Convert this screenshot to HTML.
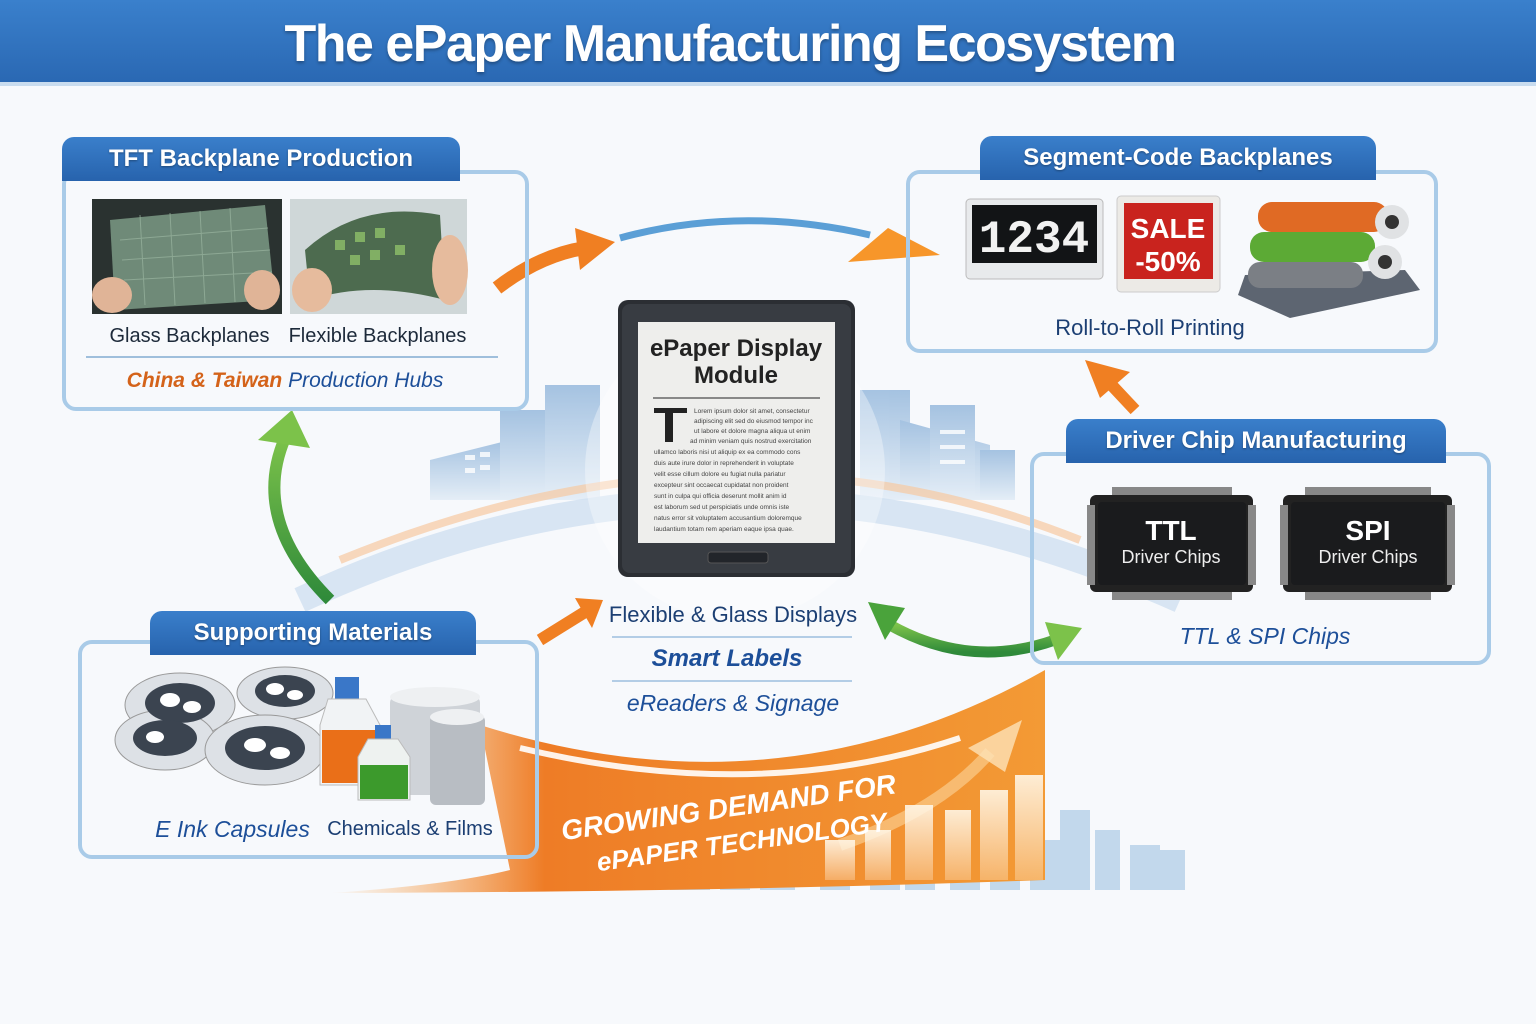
<!DOCTYPE html>
<html><head><meta charset="utf-8">
<style>
*{margin:0;padding:0;box-sizing:border-box}
body{width:1536px;height:1024px;overflow:hidden;background:#f7f9fc;font-family:"Liberation Sans",sans-serif;position:relative}
.a{position:absolute}
.hdr{left:0;top:0;width:1536px;height:86px;background:linear-gradient(#3a80cc,#2a68b3);border-bottom:4px solid #c9dcef}
.ttl{left:0;top:14px;width:1460px;text-align:center;color:#fff;font-weight:bold;font-size:52px;letter-spacing:-1.5px;text-shadow:0 2px 3px rgba(0,0,0,.3)}
.box{border:4px solid #a9cbe8;border-radius:14px}
.tab{background:linear-gradient(#3a7fcb,#2763ad);color:#fff;font-weight:bold;font-size:24px;text-align:center;border-radius:12px 12px 0 0;line-height:44px;text-shadow:0 1px 2px rgba(0,0,0,.35)}
.cap{font-size:20px;color:#1d2a3a;text-align:center}
.it{font-style:italic}
.bl{color:#1d4f99}
</style></head><body>
<svg class="a" style="left:0;top:0" width="1536" height="1024">
<defs>
<linearGradient id="ob" x1="0" y1="0" x2="1" y2="0"><stop offset="0" stop-color="#f9a64b" stop-opacity="0"/><stop offset=".3" stop-color="#ee7c26"/><stop offset="1" stop-color="#f39a35"/></linearGradient>
<linearGradient id="gr" x1="0" y1="1" x2="0" y2="0"><stop offset="0" stop-color="#2f8a3a"/><stop offset="1" stop-color="#7cc24a"/></linearGradient>
<linearGradient id="city" x1="0" y1="0" x2="0" y2="1"><stop offset="0" stop-color="#6f9fd0"/><stop offset="1" stop-color="#d9e7f4"/></linearGradient>
<linearGradient id="wb" x1="0" y1="0" x2="0" y2="1"><stop offset="0" stop-color="#fff6e6" stop-opacity=".9"/><stop offset="1" stop-color="#fff6e6" stop-opacity=".3"/></linearGradient>
</defs>
<g fill="url(#city)" opacity=".6">
<polygon points="430,460 510,440 510,500 430,500"/><rect x="500" y="410" width="60" height="90"/><rect x="545" y="385" width="55" height="115"/>
<rect x="860" y="390" width="50" height="110"/><polygon points="900,420 990,445 990,500 900,500"/><rect x="930" y="405" width="45" height="95"/><rect x="980" y="450" width="35" height="50"/>
</g>
<g fill="#fff" opacity=".8"><rect x="465" y="455" width="10" height="5"/><rect x="480" y="452" width="10" height="5"/><rect x="465" y="468" width="10" height="5"/><rect x="480" y="465" width="10" height="5"/><rect x="940" y="430" width="25" height="4"/><rect x="940" y="445" width="25" height="4"/><rect x="940" y="460" width="25" height="4"/></g>
<path d="M300 600 Q730 400 1180 600" fill="none" stroke="#cfe0f0" stroke-width="26" opacity=".8"/>
<path d="M340 560 Q730 400 1080 540" fill="none" stroke="#f6c9a1" stroke-width="8" opacity=".7"/>
<g fill="#8fb8de" opacity=".5">
<rect x="670" y="872" width="40" height="18"/><rect x="720" y="868" width="30" height="22"/><rect x="760" y="860" width="35" height="30"/><rect x="820" y="855" width="30" height="35"/><rect x="870" y="850" width="30" height="40"/><rect x="905" y="840" width="30" height="50"/><rect x="950" y="845" width="30" height="45"/><rect x="990" y="850" width="30" height="40"/><rect x="1030" y="840" width="30" height="50"/><rect x="1060" y="810" width="30" height="80"/><rect x="1095" y="830" width="25" height="60"/><rect x="1130" y="845" width="30" height="45"/><rect x="1160" y="850" width="25" height="40"/>
</g>
<path d="M480 725 Q780 820 1045 670 L1045 880 Q720 892 330 893 Q450 885 510 870 Z" fill="url(#ob)"/>
<path d="M520 748 Q760 805 960 738" fill="none" stroke="#fff" stroke-width="6" opacity=".9"/>
<path d="M840 845 Q940 810 990 752" fill="none" stroke="#fbd59b" stroke-width="12" opacity=".6"/>
<polygon points="968,748 1022,720 1005,772" fill="#fde2b8" opacity=".8"/>
<g fill="url(#wb)"><rect x="825" y="840" width="30" height="40"/><rect x="865" y="830" width="26" height="50"/><rect x="905" y="805" width="28" height="75"/><rect x="945" y="810" width="26" height="70"/><rect x="980" y="790" width="28" height="90"/><rect x="1015" y="775" width="28" height="105"/></g>
<text x="560" y="818" transform="rotate(-8 720 810)" font-family="Liberation Sans" font-weight="bold" font-style="italic" font-size="28" fill="#fff">GROWING DEMAND FOR</text>
<text x="595" y="854" transform="rotate(-8 720 840)" font-family="Liberation Sans" font-weight="bold" font-style="italic" font-size="26" fill="#fff">ePAPER TECHNOLOGY</text>
<path d="M497 288 Q540 255 585 248" stroke="#f07f22" stroke-width="14" fill="none"/>
<polygon points="575,228 615,242 580,270" fill="#f07f22"/>
<path d="M620 238 Q740 205 870 235" stroke="#5b9fd6" stroke-width="7" fill="none"/>
<polygon points="848,262 888,228 940,255" fill="#f7962a"/>
<path d="M330 600 Q250 520 285 438" stroke="url(#gr)" stroke-width="12" fill="none"/>
<polygon points="258,440 292,410 310,448" fill="#7cc24a"/>
<path d="M1135 410 L1105 378" stroke="#f07f22" stroke-width="12"/>
<polygon points="1085,360 1130,372 1100,398" fill="#f07f22"/>
<path d="M540 640 L585 612" stroke="#f07f22" stroke-width="12"/>
<polygon points="603,600 575,598 592,628" fill="#f07f22"/>
<path d="M890 625 Q970 670 1055 640" stroke="url(#gr)" stroke-width="11" fill="none"/>
<polygon points="868,602 905,608 885,640" fill="#4aa33b"/>
<polygon points="1082,628 1045,622 1058,660" fill="#7cc24a"/>
<circle cx="735" cy="470" r="150" fill="#fff" opacity=".35"/>
<rect x="618" y="300" width="237" height="277" rx="10" fill="#2b2e33"/>
<rect x="622" y="304" width="229" height="269" rx="8" fill="#383c42"/>
<rect x="638" y="322" width="197" height="221" fill="#eeeeec"/>
<text x="736" y="356" text-anchor="middle" font-family="Liberation Sans" font-weight="bold" font-size="24" fill="#222">ePaper Display</text>
<text x="736" y="383" text-anchor="middle" font-family="Liberation Sans" font-weight="bold" font-size="24" fill="#222">Module</text>
<line x1="653" y1="398" x2="820" y2="398" stroke="#666" stroke-width="1.5"/>
<rect x="654" y="408" width="33" height="5" fill="#222"/><rect x="665" y="410" width="8" height="32" fill="#222"/>
<g font-family="Liberation Sans" font-size="6.5" fill="#444">
<text x="694" y="413">Lorem ipsum dolor sit amet, consectetur</text><text x="694" y="423">adipiscing elit sed do eiusmod tempor inc</text><text x="694" y="433">ut labore et dolore magna aliqua ut enim</text><text x="690" y="443">ad minim veniam quis nostrud exercitation</text>
<text x="654" y="454">ullamco laboris nisi ut aliquip ex ea commodo cons</text><text x="654" y="465">duis aute irure dolor in reprehenderit in voluptate</text><text x="654" y="476">velit esse cillum dolore eu fugiat nulla pariatur</text><text x="654" y="487">excepteur sint occaecat cupidatat non proident</text><text x="654" y="498">sunt in culpa qui officia deserunt mollit anim id</text><text x="654" y="509">est laborum sed ut perspiciatis unde omnis iste</text><text x="654" y="520">natus error sit voluptatem accusantium doloremque</text><text x="654" y="531">laudantium totam rem aperiam eaque ipsa quae.</text>
</g>
<rect x="708" y="552" width="60" height="11" rx="3" fill="#22252a" stroke="#555"/>
<rect x="92" y="199" width="190" height="115" fill="#2a3230"/>
<path d="M110 220 L265 205 L275 300 L115 310 Z" fill="#6f8a78"/>
<g stroke="#9ab5a0" stroke-width="1" opacity=".7"><path d="M120 240 L268 228 M122 260 L270 250 M124 280 L272 272 M140 215 L145 305 M170 213 L175 305 M200 211 L205 303 M230 208 L235 302"/></g>
<ellipse cx="112" cy="295" rx="20" ry="18" fill="#e0b497"/><ellipse cx="262" cy="290" rx="18" ry="20" fill="#e0b497"/>
<rect x="290" y="199" width="177" height="115" fill="#cfd7d8"/>
<path d="M305 250 Q360 200 440 215 L445 300 Q370 280 310 300 Z" fill="#4d6b4f"/>
<g fill="#8ec06a" opacity=".8"><rect x="335" y="240" width="10" height="10"/><rect x="355" y="232" width="10" height="10"/><rect x="375" y="228" width="10" height="10"/><rect x="350" y="255" width="10" height="10"/><rect x="370" y="250" width="10" height="10"/><rect x="395" y="245" width="10" height="10"/></g>
<ellipse cx="312" cy="290" rx="20" ry="22" fill="#e6bb9d"/><ellipse cx="450" cy="270" rx="18" ry="35" fill="#e6bb9d"/>
<rect x="966" y="199" width="137" height="80" rx="4" fill="#e8eaec" stroke="#bbb"/>
<rect x="972" y="205" width="125" height="58" fill="#121416"/>
<text x="1034" y="252" text-anchor="middle" font-family="Liberation Mono" font-weight="bold" font-size="46" fill="#f2f2f2">1234</text>
<rect x="1117" y="196" width="103" height="96" rx="4" fill="#eceae6" stroke="#ccc"/>
<rect x="1124" y="203" width="89" height="76" fill="#c9231e"/>
<text x="1168" y="238" text-anchor="middle" font-family="Liberation Sans" font-weight="bold" font-size="28" fill="#fff">SALE</text>
<text x="1168" y="271" text-anchor="middle" font-family="Liberation Sans" font-weight="bold" font-size="28" fill="#fff">-50%</text>
<polygon points="1245,275 1405,270 1420,290 1290,318 1238,295" fill="#5d6571"/>
<rect x="1258" y="202" width="130" height="30" rx="14" fill="#e06a24"/><rect x="1250" y="232" width="125" height="30" rx="14" fill="#5caa35"/><rect x="1248" y="262" width="115" height="26" rx="12" fill="#7b7f85"/>
<circle cx="1392" cy="222" r="17" fill="#e0e2e4"/><circle cx="1392" cy="222" r="7" fill="#333"/><circle cx="1385" cy="262" r="17" fill="#e0e2e4"/><circle cx="1385" cy="262" r="7" fill="#333"/>
<g><rect x="1090" y="495" width="163" height="97" rx="6" fill="#222"/>
<g fill="#888"><rect x="1112" y="487" width="120" height="8"/><rect x="1112" y="592" width="120" height="8"/><rect x="1087" y="505" width="8" height="80"/><rect x="1248" y="505" width="8" height="80"/></g>
<rect x="1098" y="502" width="148" height="83" rx="4" fill="#1a1b1d"/>
<text x="1171" y="540" text-anchor="middle" font-family="Liberation Sans" font-weight="bold" font-size="28" fill="#fff">TTL</text>
<text x="1171" y="563" text-anchor="middle" font-family="Liberation Sans" font-size="18" fill="#eee">Driver Chips</text></g>
<g><rect x="1283" y="495" width="169" height="97" rx="6" fill="#222"/>
<g fill="#888"><rect x="1305" y="487" width="126" height="8"/><rect x="1305" y="592" width="126" height="8"/><rect x="1280" y="505" width="8" height="80"/><rect x="1447" y="505" width="8" height="80"/></g>
<rect x="1291" y="502" width="154" height="83" rx="4" fill="#1a1b1d"/>
<text x="1368" y="540" text-anchor="middle" font-family="Liberation Sans" font-weight="bold" font-size="28" fill="#fff">SPI</text>
<text x="1368" y="563" text-anchor="middle" font-family="Liberation Sans" font-size="18" fill="#eee">Driver Chips</text></g>
</svg>
<div class="a hdr"></div>
<div class="a ttl">The ePaper Manufacturing Ecosystem</div>

<div class="a box" style="left:62px;top:170px;width:467px;height:241px"></div>
<div class="a tab" style="left:62px;top:137px;width:398px">TFT Backplane Production</div>
<div class="a cap" style="left:92px;top:325px;width:195px">Glass Backplanes</div>
<div class="a cap" style="left:285px;top:325px;width:185px">Flexible Backplanes</div>
<div class="a" style="left:86px;top:356px;width:412px;height:2px;background:#9fbfdc"></div>
<div class="a cap it bl" style="left:80px;top:369px;width:410px;font-size:21px"><span style="color:#d4631a;font-weight:bold">China &amp; Taiwan</span> Production Hubs</div>

<div class="a box" style="left:906px;top:170px;width:532px;height:183px"></div>
<div class="a tab" style="left:980px;top:136px;width:396px">Segment-Code Backplanes</div>
<div class="a cap bl" style="left:1000px;top:315px;width:300px;font-size:22px;color:#1c3f73">Roll-to-Roll Printing</div>

<div class="a box" style="left:1030px;top:452px;width:461px;height:213px"></div>
<div class="a tab" style="left:1066px;top:419px;width:380px">Driver Chip Manufacturing</div>
<div class="a cap it bl" style="left:1130px;top:623px;width:270px;font-size:23px">TTL &amp; SPI Chips</div>

<div class="a box" style="left:78px;top:640px;width:461px;height:219px"></div>
<div class="a tab" style="left:150px;top:611px;width:326px">Supporting Materials</div>
<svg class="a" style="left:110px;top:665px" width="400" height="150">
<g fill="#dde1e6" stroke="#999"><ellipse cx="70" cy="40" rx="55" ry="32"/><ellipse cx="175" cy="28" rx="48" ry="26"/><ellipse cx="55" cy="75" rx="50" ry="30"/><ellipse cx="155" cy="85" rx="60" ry="35"/></g>
<g fill="#3b4450"><ellipse cx="70" cy="38" rx="35" ry="20"/><ellipse cx="175" cy="26" rx="30" ry="16"/><ellipse cx="55" cy="73" rx="32" ry="18"/><ellipse cx="155" cy="83" rx="40" ry="22"/></g>
<g fill="#fff"><ellipse cx="60" cy="35" rx="10" ry="7"/><ellipse cx="82" cy="42" rx="9" ry="6"/><ellipse cx="165" cy="24" rx="9" ry="6"/><ellipse cx="185" cy="30" rx="8" ry="5"/><ellipse cx="45" cy="72" rx="9" ry="6"/><ellipse cx="145" cy="80" rx="11" ry="7"/><ellipse cx="170" cy="88" rx="10" ry="6"/></g>
<rect x="225" y="12" width="24" height="22" fill="#3a77c8"/><path d="M218 34 L256 34 L270 60 L270 120 L210 120 L210 60 Z" fill="#f1f3f5" stroke="#bbb"/><rect x="212" y="65" width="56" height="53" fill="#ea6f18"/>
<rect x="280" y="30" width="90" height="100" rx="8" fill="#cfd3d8"/><ellipse cx="325" cy="32" rx="45" ry="10" fill="#eef0f2"/>
<rect x="320" y="50" width="55" height="90" rx="6" fill="#b8bdc3"/><ellipse cx="347" cy="52" rx="27" ry="8" fill="#eef0f2"/>
<rect x="265" y="60" width="16" height="14" fill="#3a77c8"/><path d="M258 74 L288 74 L300 92 L300 135 L248 135 L248 92 Z" fill="#eef2f0" stroke="#bbb"/><rect x="250" y="100" width="48" height="34" fill="#3c9a2c"/>
</svg>
<div class="a cap it bl" style="left:145px;top:816px;width:175px;font-size:23px">E Ink Capsules</div>
<div class="a cap" style="left:325px;top:818px;width:170px;color:#1c3f73">Chemicals &amp; Films</div>

<div class="a cap" style="left:600px;top:602px;width:266px;font-size:22px;color:#1c3f73">Flexible &amp; Glass Displays</div>
<div class="a" style="left:612px;top:636px;width:240px;height:2px;background:#b3cde6"></div>
<div class="a cap it bl" style="left:600px;top:645px;width:254px;font-size:24px;font-weight:bold">Smart Labels</div>
<div class="a" style="left:612px;top:680px;width:240px;height:2px;background:#b3cde6"></div>
<div class="a cap it bl" style="left:600px;top:690px;width:266px;font-size:23px">eReaders &amp; Signage</div>
</body></html>
